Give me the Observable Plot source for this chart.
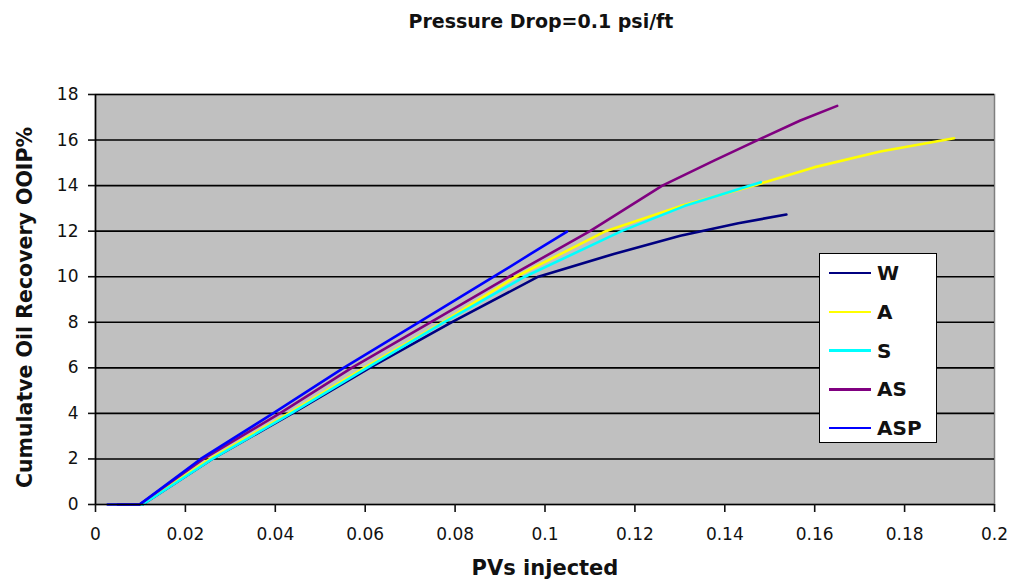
<!DOCTYPE html>
<html><head><meta charset="utf-8">
<script src="https://cdn.jsdelivr.net/npm/d3@7"></script>
<script src="https://cdn.jsdelivr.net/npm/@observablehq/plot@0.6"></script>
<style>
body{margin:0;background:#fff;font-family:"DejaVu Sans",sans-serif;}
#wrap{position:relative;width:1011px;height:586px;}
#title{height:50px;box-sizing:border-box;padding-top:10px;padding-left:71px;text-align:center;font-weight:bold;font-size:19px;line-height:22px;color:#111;}
#legend{position:absolute;left:819px;top:253px;width:118px;height:190px;box-sizing:border-box;border:1.5px solid #000;background:#fff;}
.item{position:absolute;left:0;height:0;width:100%;}
.sw{position:absolute;left:9px;width:42px;height:2.5px;top:-1.25px;}
.lb{position:absolute;left:57px;font-weight:bold;font-size:20px;line-height:20px;top:-10px;white-space:nowrap;color:#111;}
#chart svg{display:block;}
</style></head>
<body><div id="wrap"><div id="title">Pressure Drop=0.1 psi/ft</div><div id="chart"></div><div id="legend"></div></div>
<script>
// Series names and colours
const seriesNames = ["W", "A", "S", "AS", "ASP"];
const seriesColors = ["#000080", "#ffff00", "#00ffff", "#800080", "#0000ff"];

// Values (PVs injected, cumulative recovery %OOIP)
const W_pv   = [0.005, 0.0105, 0.026, 0.0438, 0.061, 0.0792, 0.0985, 0.1153, 0.1301, 0.143, 0.1537];
const W_rec  = [0, 0, 2, 4, 6, 8, 10, 11, 11.8, 12.35, 12.73];

const A_pv   = [0.005, 0.0103, 0.0255, 0.043, 0.0598, 0.0772, 0.0935, 0.1135, 0.1301, 0.1465, 0.1598, 0.1746, 0.191];
const A_rec  = [0, 0, 2, 4, 6, 8, 10, 12, 13.1, 14, 14.8, 15.5, 16.08];

const S_pv   = [0.005, 0.0105, 0.026, 0.0435, 0.0604, 0.0775, 0.0955, 0.117, 0.131, 0.148];
const S_rec  = [0, 0, 2, 4, 6, 8, 10, 12, 13.1, 14.15];

const AS_pv  = [0.005, 0.0098, 0.024, 0.041, 0.057, 0.0745, 0.092, 0.110, 0.1261, 0.1376, 0.1479, 0.1568, 0.165];
const AS_rec = [0, 0, 2, 4, 6, 8, 10, 12, 14, 15.1, 16.05, 16.86, 17.5];

const ASP_pv  = [0.0027, 0.0098, 0.0234, 0.0395, 0.0552, 0.0719, 0.0886, 0.0968, 0.1049];
const ASP_rec = [0, 0, 2, 4, 6, 8, 10, 11, 11.98];

// Axis ticks
const xTicks = [0, 0.02, 0.04, 0.06, 0.08, 0.1, 0.12, 0.14, 0.16, 0.18, 0.2];
const yTicks = [0, 2, 4, 6, 8, 10, 12, 14, 16, 18];

// Texts
const xLabel = "PVs injected";
const yLabel = "Cumulatve Oil Recovery OOIP%";

const pvs = [W_pv, A_pv, S_pv, AS_pv, ASP_pv];
const recs = [W_rec, A_rec, S_rec, AS_rec, ASP_rec];
const data = seriesNames.flatMap((s, i) => pvs[i].map((pv, j) => ({series: s, pv, rec: recs[i][j]})));

const chart = Plot.plot({
  width: 1011, height: 536,
  marginTop: 44, marginBottom: 82, marginLeft: 95, marginRight: 17,
  style: {fontFamily: "DejaVu Sans", fontSize: "17px", color: "#111", background: "transparent", overflow: "visible"},
  x: {domain: [0, 0.2]},
  y: {domain: [0, 18]},
  color: {domain: seriesNames, range: seriesColors},
  marks: [
    Plot.frame({fill: "#c0c0c0", stroke: "#7f7f7f", strokeWidth: 1.5}),
    Plot.ruleY(yTicks.filter(d => d > 0), {stroke: "#000", strokeWidth: 1.6}),
    Plot.line(data, {x: "pv", y: "rec", z: "series", stroke: "series", strokeWidth: 2.6, curve: "linear", strokeLinejoin: "round"}),
    Plot.ruleX([0], {stroke: "#000", strokeWidth: 1.6}),
    Plot.ruleY([0], {stroke: "#000", strokeWidth: 1.6}),
    Plot.axisX({ticks: xTicks, tickFormat: d => String(+d.toFixed(2)), tickSize: 8, tickPadding: 15, label: null, strokeWidth: 1.6}),
    Plot.axisY({ticks: yTicks, tickSize: 7, tickPadding: 10, label: null, strokeWidth: 1.6}),
    Plot.text([xLabel], {text: d => d, frameAnchor: "bottom", dy: 70, fontSize: 21, fontWeight: "bold", fill: "#111"}),
    Plot.text([yLabel], {text: d => d, frameAnchor: "left", textAnchor: "middle", dx: -70, dy: 8, rotate: -90, fontSize: 20.5, fontWeight: "bold", fill: "#111"})
  ]
});
document.getElementById("chart").appendChild(chart);

// Legend
const legend = d3.select("#legend");
seriesNames.forEach((s, i) => {
  const item = legend.append("div").attr("class", "item").style("top", (19 + i * 38.8) + "px");
  item.append("div").attr("class", "sw").style("background", seriesColors[i]);
  item.append("div").attr("class", "lb").text(s);
});
</script></body></html>
